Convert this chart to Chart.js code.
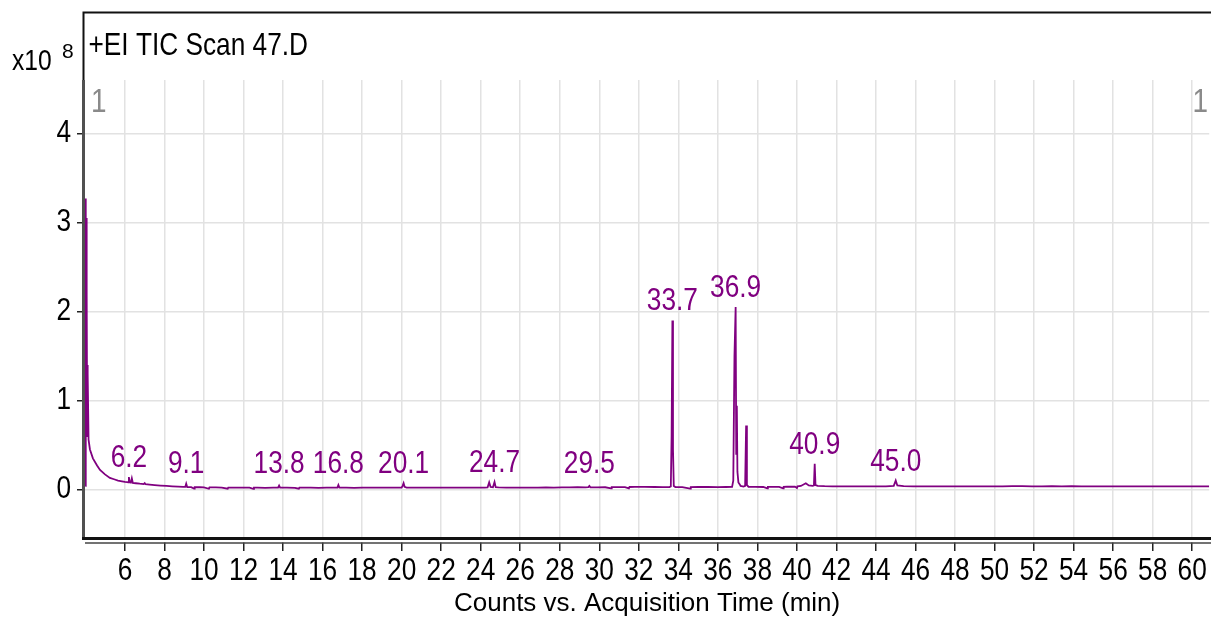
<!DOCTYPE html>
<html>
<head>
<meta charset="utf-8">
<script src="https://cdn.jsdelivr.net/npm/chart.js@4/dist/chart.umd.min.js"></script>
<style>
  html, body { margin: 0; padding: 0; background: #fff; overflow: hidden; }
  canvas { display: block; }
</style>
</head>
<body>
<canvas id="tic" width="1211" height="623"></canvas>
<script>
// Total ion chromatogram, intensity in units of 1e8 counts, time in minutes
const times = [
  3.99, 4.005, 4.02, 4.03, 4.04, 4.05, 4.06, 4.07, 4.08, 4.09, 4.10, 4.115, 4.13, 4.16, 4.23,
  4.38, 4.59, 4.74, 4.99, 5.24, 5.45, 5.65, 5.85, 6.00, 6.12, 6.16, 6.20,
  6.24, 6.30, 6.35, 6.40, 6.55, 6.75, 6.95, 7.00, 7.04, 7.25, 7.50, 7.80, 8.10, 8.40, 8.70,
  8.95, 9.05, 9.10, 9.15, 9.35, 9.50, 9.53, 9.80, 10.0, 10.25, 10.28, 10.6, 10.9, 11.2, 11.23,
  11.5, 11.9, 12.3, 12.5, 12.53, 12.7, 13.1, 13.5, 13.75, 13.8, 13.85, 14.2, 14.6, 14.8, 14.83,
  15.0, 15.4, 15.8, 16.2, 16.6, 16.75, 16.8, 16.85, 17.2, 17.6, 18.0, 18.4, 18.8, 19.2, 19.6,
  20.0, 20.05, 20.1, 20.15, 20.25, 20.6, 21.0, 21.4, 21.8, 22.2, 22.6, 23.0, 23.4, 23.8, 24.2,
  24.35, 24.43, 24.50, 24.62, 24.70, 24.76, 24.9, 25.3, 25.7, 26.1, 26.5, 26.9, 27.3, 27.7, 28.1,
  28.5, 28.9, 29.3, 29.45, 29.5, 29.55, 29.9, 30.3, 30.6, 30.63, 30.8, 31.3, 31.5, 31.53, 31.8,
  32.3, 32.8, 33.2, 33.55, 33.62, 33.66, 33.70, 33.73, 33.77, 33.85, 34.2, 34.6, 34.63, 35.0, 35.5,
  36.0, 36.4, 36.72, 36.78, 36.84, 36.90, 36.93, 36.96, 36.99, 37.04, 37.10, 37.15, 37.30, 37.38, 37.43,
  37.47, 37.55, 37.9, 38.3, 38.5, 38.53, 38.7, 39.1, 39.3, 39.33, 39.5, 39.9, 40.0, 40.03, 40.2,
  40.45, 40.6, 40.8, 40.86, 40.9, 40.94, 41.05, 41.4, 41.8, 42.2, 42.6, 43.0, 43.5, 44.0, 44.5,
  44.9, 45.0, 45.08, 45.4, 45.9, 46.4, 46.9, 47.4, 47.9, 48.4, 48.9, 49.4, 49.9, 50.4, 50.9,
  51.4, 51.9, 52.4, 52.9, 53.4, 53.9, 54.4, 54.9, 55.4, 55.9, 56.4, 56.9, 57.4, 57.9, 58.4,
  58.9, 59.4, 59.9, 60.4, 60.86
];
const counts = [
  0.04, 0.12, 3.27, 0.90, 3.05, 1.10, 2.33, 0.70, 2.20, 0.60, 1.40, 0.90, 1.30, 0.56, 0.45,
  0.35, 0.27, 0.22, 0.17, 0.13, 0.115, 0.10, 0.092, 0.085, 0.082, 0.080, 0.14,
  0.080, 0.076, 0.125, 0.073, 0.070, 0.065, 0.061, 0.072, 0.059, 0.054, 0.049, 0.044, 0.040, 0.036, 0.033,
  0.030, 0.029, 0.065, 0.028, 0.027, 0.010, 0.027, 0.025, 0.024, 0.008, 0.024, 0.023, 0.022, 0.009, 0.022,
  0.021, 0.022, 0.020, 0.008, 0.020, 0.021, 0.019, 0.021, 0.022, 0.045, 0.021, 0.020, 0.019, 0.009, 0.020,
  0.021, 0.020, 0.019, 0.021, 0.020, 0.021, 0.050, 0.021, 0.020, 0.019, 0.021, 0.020, 0.020, 0.021, 0.020,
  0.022, 0.040, 0.070, 0.030, 0.022, 0.021, 0.020, 0.021, 0.020, 0.021, 0.020, 0.021, 0.020, 0.022, 0.022,
  0.024, 0.080, 0.028, 0.026, 0.085, 0.026, 0.023, 0.022, 0.021, 0.022, 0.021, 0.022, 0.023, 0.022, 0.024,
  0.023, 0.025, 0.024, 0.026, 0.040, 0.025, 0.024, 0.025, 0.012, 0.026, 0.026, 0.027, 0.013, 0.028, 0.030,
  0.029, 0.028, 0.027, 0.027, 0.035, 0.60, 1.90, 0.45, 0.040, 0.028, 0.027, 0.010, 0.027, 0.028, 0.028,
  0.027, 0.028, 0.030, 0.10, 1.50, 2.05, 0.40, 0.94, 0.20, 0.08, 0.06, 0.04, 0.032, 0.040, 0.72,
  0.05, 0.031, 0.029, 0.028, 0.012, 0.029, 0.030, 0.029, 0.014, 0.030, 0.031, 0.033, 0.016, 0.035, 0.040,
  0.070, 0.045, 0.040, 0.045, 0.29, 0.05, 0.040, 0.037, 0.036, 0.035, 0.036, 0.035, 0.034, 0.035, 0.036,
  0.040, 0.10, 0.045, 0.037, 0.036, 0.035, 0.036, 0.035, 0.035, 0.034, 0.036, 0.035, 0.034, 0.036, 0.038,
  0.037, 0.036, 0.035, 0.037, 0.036, 0.038, 0.036, 0.035, 0.034, 0.035, 0.034, 0.035, 0.034, 0.035, 0.034,
  0.035, 0.034, 0.035, 0.034, 0.034
];

// Labelled peaks: retention time (min) and apex height (1e8 counts)
const peakTimes   = [6.2, 9.1, 13.8, 16.8, 20.1, 24.7, 29.5, 33.7, 36.9, 40.9, 45.0];
const peakHeights = [0.14, 0.065, 0.045, 0.050, 0.070, 0.085, 0.040, 1.90, 2.05, 0.29, 0.10];

const xTicks = [6, 8, 10, 12, 14, 16, 18, 20, 22, 24, 26, 28, 30, 32, 34, 36, 38, 40, 42, 44, 46, 48, 50, 52, 54, 56, 58, 60];
const yTicks = [0, 1, 2, 3, 4];

const NARROW = "'Liberation Sans Narrow', 'Liberation Sans', sans-serif";
const REGULAR = "'Liberation Sans', Arial, sans-serif";
const PURPLE = '#800080';

// Use the narrow face when it exists; otherwise squeeze the regular face horizontally
const probe = document.createElement('canvas').getContext('2d');
probe.font = "40px 'Liberation Sans Narrow', monospace";
const wNarrow = probe.measureText('0123456789 Scan').width;
probe.font = '40px monospace';
const wMono = probe.measureText('0123456789 Scan').width;
const NARROW_SQUEEZE = Math.abs(wNarrow - wMono) > 0.5 ? 1 : 0.82;

const canvas = document.getElementById('tic');
const ctx2d = canvas.getContext('2d');
const baseFillText = ctx2d.fillText.bind(ctx2d);
ctx2d.fillText = function (text, x, y, maxWidth) {
  if (NARROW_SQUEEZE === 1 || this.font.indexOf('Narrow') < 0) {
    return maxWidth === undefined ? baseFillText(text, x, y) : baseFillText(text, x, y, maxWidth);
  }
  this.save();
  this.translate(x, y);
  this.scale(NARROW_SQUEEZE, 1);
  if (maxWidth === undefined) baseFillText(text, 0, 0);
  else baseFillText(text, 0, 0, maxWidth / NARROW_SQUEEZE);
  this.restore();
};

// Frame, axis line and header texts
const framePlugin = {
  id: 'frame',
  afterDraw(chart) {
    const { ctx, chartArea: a } = chart;
    ctx.save();
    ctx.fillStyle = '#fff';
    ctx.fillRect(a.left, a.bottom + 2, a.right - a.left, 2.5);

    ctx.lineCap = 'butt';
    ctx.strokeStyle = '#111';
    ctx.lineWidth = 2;
    ctx.beginPath();
    ctx.moveTo(82.5, 12.5); ctx.lineTo(1211, 12.5);
    ctx.moveTo(83.5, 12); ctx.lineTo(83.5, a.top);
    ctx.stroke();

    ctx.strokeStyle = '#505050';
    ctx.lineWidth = 3;
    ctx.beginPath();
    ctx.moveTo(83.5, a.top); ctx.lineTo(83.5, a.bottom + 2);
    ctx.stroke();

    ctx.strokeStyle = '#111';
    ctx.lineWidth = 3;
    ctx.beginPath();
    ctx.moveTo(82, a.bottom + 0.5); ctx.lineTo(1211, a.bottom + 0.5);
    ctx.stroke();

    ctx.strokeStyle = '#444';
    ctx.lineWidth = 1.5;
    ctx.beginPath();
    ctx.moveTo(a.left, a.bottom + 5); ctx.lineTo(1211, a.bottom + 5);
    ctx.stroke();

    ctx.fillStyle = '#000';
    ctx.textBaseline = 'alphabetic';
    ctx.textAlign = 'left';
    ctx.font = '32px ' + NARROW;
    ctx.fillText('+EI TIC Scan 47.D', 88.5, 55);
    ctx.font = '30px ' + NARROW;
    ctx.fillText('x10', 12, 70);
    ctx.font = '21px ' + REGULAR;
    ctx.fillText('8', 62, 58);

    ctx.fillStyle = '#8a8a8a';
    ctx.font = '34px ' + NARROW;
    ctx.fillText('1', 91, 112);
    ctx.textAlign = 'right';
    ctx.fillText('1', 1208, 112);
    ctx.restore();
  }
};

// Retention-time labels above each peak apex
const peakLabelPlugin = {
  id: 'peakLabels',
  afterDatasetsDraw(chart) {
    const { ctx, scales: { x, y } } = chart;
    ctx.save();
    ctx.fillStyle = PURPLE;
    ctx.font = '32px ' + NARROW;
    ctx.textAlign = 'center';
    ctx.textBaseline = 'alphabetic';
    const floor = y.getPixelForValue(0) - 16;
    peakTimes.forEach((t, i) => {
      const px = x.getPixelForValue(t);
      const py = Math.min(y.getPixelForValue(peakHeights[i]) - 10, floor);
      ctx.fillText(t.toFixed(1), px, py);
    });
    ctx.restore();
  }
};

new Chart(canvas, {
  type: 'line',
  data: {
    datasets: [{
      data: times.map((t, i) => ({ x: t, y: counts[i] })),
      borderColor: PURPLE,
      borderWidth: 1.8,
      pointRadius: 0,
      tension: 0,
      fill: false
    }]
  },
  options: {
    responsive: false,
    devicePixelRatio: 1,
    animation: false,
    layout: { padding: { top: 80, left: 0, right: 0, bottom: 0 } },
    plugins: { legend: { display: false }, tooltip: { enabled: false }, title: { display: false } },
    scales: {
      x: {
        type: 'linear',
        min: 3.98,
        max: 60.86,
        afterBuildTicks: s => { s.ticks = xTicks.map(v => ({ value: v })); },
        afterFit: s => { s.height = 85; },
        border: { display: false },
        grid: { color: '#e2e2e2', lineWidth: 1.5, tickLength: 13, tickColor: '#222', tickWidth: 1.5 },
        ticks: {
          autoSkip: false, maxRotation: 0, minRotation: 0, padding: 1, color: '#000',
          font: { family: NARROW, size: 32 },
          callback: v => String(v)
        },
        title: {
          display: true,
          text: 'Counts vs. Acquisition Time (min)',
          color: '#000',
          font: { family: REGULAR, size: 26 },
          padding: { top: 0, bottom: 4 }
        }
      },
      y: {
        type: 'linear',
        min: -0.545,
        max: 4.601,
        afterBuildTicks: s => { s.ticks = yTicks.map(v => ({ value: v })); },
        afterFit: s => { s.width = 85; },
        border: { display: false },
        grid: { color: '#e2e2e2', lineWidth: 1.5, tickLength: 8, tickColor: '#222', tickWidth: 1.5 },
        ticks: {
          padding: 6, color: '#000',
          font: { family: NARROW, size: 32 },
          callback: v => String(v)
        }
      }
    }
  },
  plugins: [framePlugin, peakLabelPlugin]
});
</script>
</body>
</html>
